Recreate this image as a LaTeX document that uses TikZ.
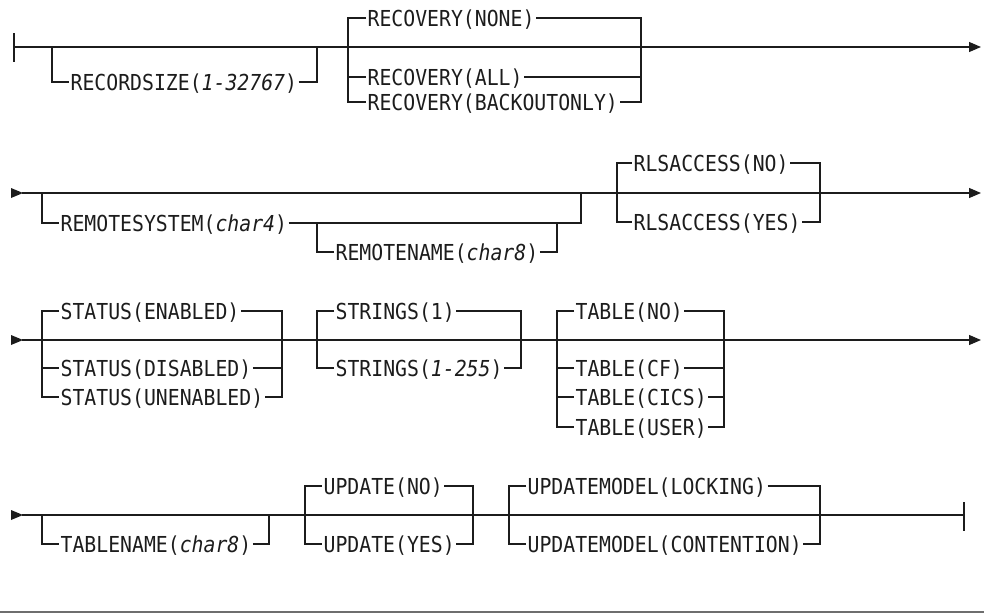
\documentclass[tikz,border=0pt]{standalone}
\usepackage{fontspec}
\newfontfamily\rrfont[FakeStretch=0.9]{DejaVu Sans Mono}
\usetikzlibrary{arrows.meta}
\definecolor{ink}{HTML}{1C1C1C}
\definecolor{rule}{HTML}{6E6E6E}
\begin{document}
\begin{tikzpicture}[x=1pt,y=-1pt,line width=1.2pt,color=ink,
  lbl/.style={anchor=west,inner xsep=1pt,inner ysep=0pt,
    font=\rrfont\fontsize{22}{22}\selectfont,text height=20pt,text depth=4pt},
  endarrow/.style={-{Triangle[length=12pt,width=10pt]}},
  starttip/.style={fill=ink,draw=none}]
\useasboundingbox (0,0) rectangle (984,613);

% ---------------- Row 1 ----------------
\draw (14,33) -- (14,62);
\coordinate (s1) at (14,47);
\coordinate (e1) at (981,47);
\draw[endarrow] (s1) -- (e1);
\node[lbl] (rs) at (69,82) {RECORDSIZE(\textit{1-32767})};
\draw (52,47) |- (rs.west);
\draw (rs.east) -| (317,47);
\node[lbl] (rn) at (366,18) {RECOVERY(NONE)};
\node[lbl] (ra) at (366,77) {RECOVERY(ALL)};
\node[lbl] (rb) at (366,102) {RECOVERY(BACKOUTONLY)};
\draw (rn.west) -| (348,102) -- (rb.west);
\draw (rn.east) -| (641,102) -- (rb.east);
\draw (348,77) -- (ra.west);
\draw (ra.east) -- (641,77);

% ---------------- Row 2 ----------------
\fill[starttip] (11,188) -- (23,193) -- (11,198) -- cycle;
\coordinate (s2) at (22,193);
\coordinate (e2) at (981,193);
\draw[endarrow] (s2) -- (e2);
\node[lbl] (rsys) at (59,223) {REMOTESYSTEM(\textit{char4})};
\draw (42,193) |- (rsys.west);
\draw (rsys.east) -| (581,193);
\node[lbl] (rnam) at (334,252) {REMOTENAME(\textit{char8})};
\draw (317,223) |- (rnam.west);
\draw (rnam.east) -| (557,223);
\node[lbl] (rlno) at (632,163) {RLSACCESS(NO)};
\node[lbl] (rlyes) at (632,222) {RLSACCESS(YES)};
\draw (rlno.west) -| (617,222) -- (rlyes.west);
\draw (rlno.east) -| (820,222) -- (rlyes.east);

% ---------------- Row 3 ----------------
\fill[starttip] (11,335) -- (23,340) -- (11,345) -- cycle;
\coordinate (s3) at (22,340);
\coordinate (e3) at (981,340);
\draw[endarrow] (s3) -- (e3);
\node[lbl] (ste) at (59,311) {STATUS(ENABLED)};
\node[lbl] (std) at (59,368) {STATUS(DISABLED)};
\node[lbl] (stu) at (59,397) {STATUS(UNENABLED)};
\draw (ste.west) -| (42,397) -- (stu.west);
\draw (ste.east) -| (282,397) -- (stu.east);
\draw (42,368) -- (std.west);
\draw (std.east) -- (282,368);
\node[lbl] (sr1) at (334,311) {STRINGS(1)};
\node[lbl] (sr2) at (334,368) {STRINGS(\textit{1-255})};
\draw (sr1.west) -| (317,368) -- (sr2.west);
\draw (sr1.east) -| (521,368) -- (sr2.east);
\node[lbl] (tno) at (574,311) {TABLE(NO)};
\node[lbl] (tcf) at (574,368) {TABLE(CF)};
\node[lbl] (tci) at (574,397) {TABLE(CICS)};
\node[lbl] (tus) at (574,427) {TABLE(USER)};
\draw (tno.west) -| (557,427) -- (tus.west);
\draw (tno.east) -| (724,427) -- (tus.east);
\draw (557,368) -- (tcf.west);
\draw (tcf.east) -- (724,368);
\draw (557,397) -- (tci.west);
\draw (tci.east) -- (724,397);

% ---------------- Row 4 ----------------
\fill[starttip] (11,510) -- (23,515) -- (11,520) -- cycle;
\coordinate (s4) at (22,515);
\coordinate (e4) at (964,515);
\draw (s4) -- (e4);
\draw (964,502) -- (964,531);
\node[lbl] (tn) at (59,544) {TABLENAME(\textit{char8})};
\draw (42,515) |- (tn.west);
\draw (tn.east) -| (269,515);
\node[lbl] (upn) at (322,486) {UPDATE(NO)};
\node[lbl] (upy) at (322,544) {UPDATE(YES)};
\draw (upn.west) -| (305,544) -- (upy.west);
\draw (upn.east) -| (473,544) -- (upy.east);
\node[lbl] (uml) at (526,486) {UPDATEMODEL(LOCKING)};
\node[lbl] (umc) at (526,544) {UPDATEMODEL(CONTENTION)};
\draw (uml.west) -| (509,544) -- (umc.west);
\draw (uml.east) -| (820,544) -- (umc.east);

% bottom rule
\draw[draw=rule,line width=2pt] (0,611.5) -- (984,611.5);
\end{tikzpicture}
\end{document}
